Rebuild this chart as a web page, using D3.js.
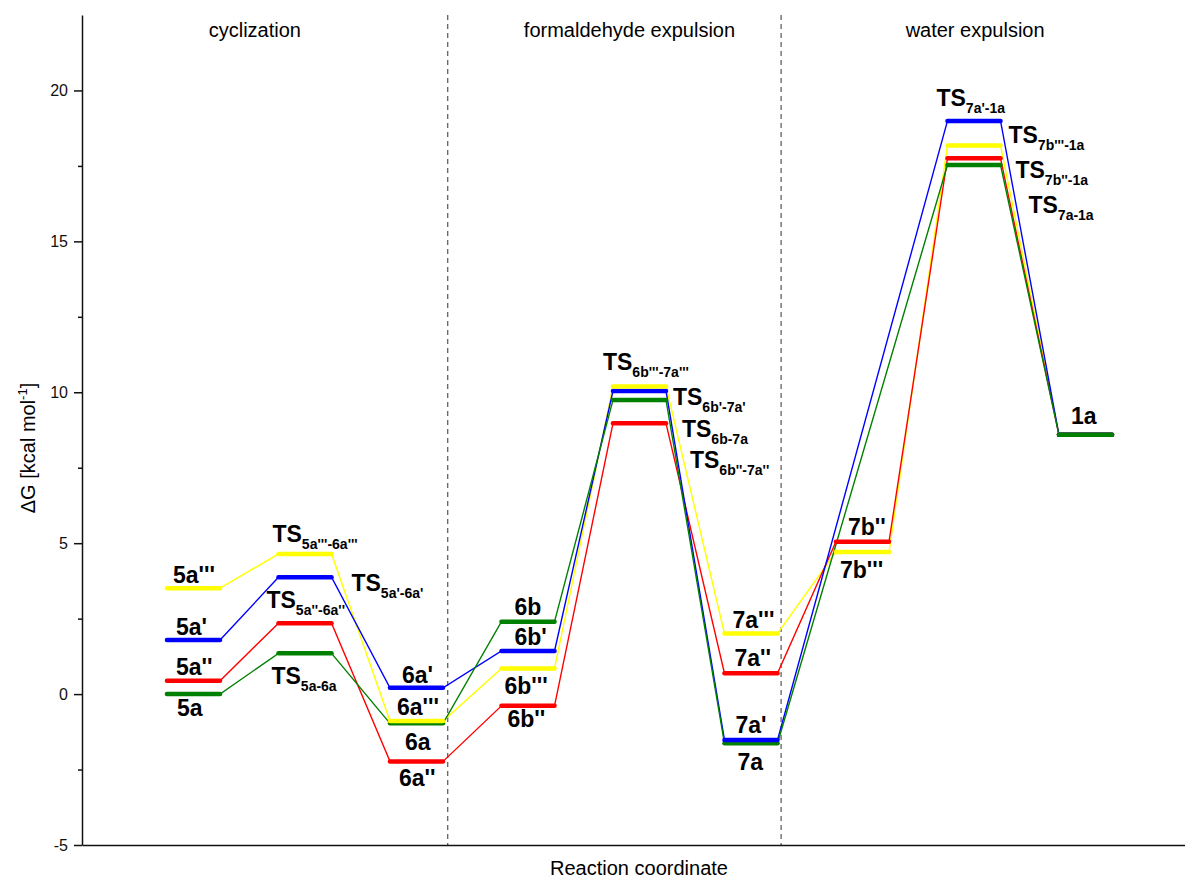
<!DOCTYPE html>
<html>
<head>
<meta charset="utf-8">
<script src="https://cdn.jsdelivr.net/npm/d3@7"></script>
<style>
  body { margin: 0; background: #fff; }
  svg { display: block; font-family: Arial, 'Liberation Sans', sans-serif; }
  .axis path, .axis line { stroke: #111; stroke-width: 1.5px; }
  .axis text { font-size: 16px; fill: #111; }
  .lbl { font-size: 23px; font-weight: bold; fill: #000; }
  .lbl .sub { font-size: 14px; }
</style>
</head>
<body>
<div id="chart"></div>
<script>
// reaction steps along the coordinate
const states = ['5a', 'TS 5a-6a', '6a', '6b', 'TS 6b-7a', '7a', '7b', 'TS 7-1a', '1a'];

// ΔG [kcal/mol] per pathway (null = state not visited)
const green  = [0.00, 1.35, -0.97, 2.40, 9.74, -1.63, null, 17.53, 8.59];
const blue   = [1.79, 3.87,  0.21, 1.43, 10.04, -1.52, null, 18.99, 8.59];
const red    = [0.44, 2.35, -2.23, -0.39, 8.97, 0.69, 5.05, 17.75, 8.59];
const yellow = [3.51, 4.64, -0.89, 0.85, 10.19, 2.01, 4.71, 18.18, 8.59];

// state names per pathway ("main|subscript")
const greenNames  = ['5a', 'TS|5a-6a', '6a', '6b', 'TS|6b-7a', '7a', null, 'TS|7a-1a', '1a'];
const blueNames   = ["5a'", "TS|5a'-6a'", "6a'", "6b'", "TS|6b'-7a'", "7a'", null, "TS|7a'-1a", null];
const redNames    = ["5a''", "TS|5a''-6a''", "6a''", "6b''", "TS|6b''-7a''", "7a''", "7b''", "TS|7b''-1a", null];
const yellowNames = ["5a'''", "TS|5a'''-6a'''", "6a'''", "6b'''", "TS|6b'''-7a'''", "7a'''", "7b'''", "TS|7b'''-1a", null];

const sections = ['cyclization', 'formaldehyde expulsion', 'water expulsion'];
const sectionBreaks = [3.28, 6.27];
const yTicks = [-5, 0, 5, 10, 15, 20];
const yMinor = [-2.5, 2.5, 7.5, 12.5, 17.5];

// label offsets (px) from the left end / level of each bar
const labelOffsets = {
  green:  [[10, 22], [-7, 31], [15, 27], [13, -7], [69, 37], [13, 27], null, [81, 48], [12, -11]],
  blue:   [[9, -5], [73, 14], [12, -5], [13, -6], [60, 14], [11, -7], null, [-11, -15], null],
  red:    [[9, -6], [-12, -15], [9, 25], [6, 21], [77, 45], [10, -7], [12, -7], [68, 20], null],
  yellow: [[6, -5], [-6, -12], [7, -6], [3, 26], [-10, -17], [8, -5], [4, 26], [61, -2], null]
};

const series = [
  { key: 'yellow', color: '#ffff00', values: yellow, names: yellowNames },
  { key: 'red', color: '#ff0000', values: red, names: redNames },
  { key: 'blue', color: '#0000ff', values: blue, names: blueNames },
  { key: 'green', color: '#008000', values: green, names: greenNames }
];

const width = 1185;
const height = 879;
const marginLeft = 82;
const plotTop = 15;
const plotBottom = 845;
const unit = 111.5;
const halfBar = 0.238;

const svg = d3.select('#chart')
  .append('svg')
  .attr('width', width)
  .attr('height', height);

const x = d3.scaleLinear()
  .domain([0, (width - marginLeft) / unit])
  .range([marginLeft, width]);
const y = d3.scaleLinear()
  .domain([-5, 22.5])
  .range([plotBottom, plotTop]);

// section separators
svg.append('g')
  .selectAll('line')
  .data(sectionBreaks)
  .enter()
  .append('line')
  .attr('x1', (d) => x(d))
  .attr('x2', (d) => x(d))
  .attr('y1', plotTop)
  .attr('y2', plotBottom)
  .attr('stroke', '#555')
  .attr('stroke-width', 1.2)
  .attr('stroke-dasharray', '5,4');

// section titles
const sectionCenters = [1.55, 4.91, 8.01];
svg.append('g')
  .selectAll('text')
  .data(sections)
  .enter()
  .append('text')
  .attr('x', (d, i) => x(sectionCenters[i]))
  .attr('y', 37)
  .attr('text-anchor', 'middle')
  .style('font-size', '20px')
  .text((d) => d);

// build points for a pathway: each state is a flat segment
function levelPoints(values) {
  const pts = [];
  values.forEach((v, i) => {
    if (v === null) { return; }
    pts.push([i + 1 - halfBar, v], [i + 1 + halfBar, v]);
  });
  return pts;
}

const line = d3.line()
  .x((d) => x(d[0]))
  .y((d) => y(d[1]));

const paths = svg.append('g');
series.forEach((s) => {
  paths.append('path')
    .attr('d', line(levelPoints(s.values)))
    .attr('fill', 'none')
    .attr('stroke', s.color)
    .attr('stroke-width', 1.4);
});

// level bars: within a state the higher level is drawn last
const levels = [];
series.forEach((s) => {
  s.values.forEach((v, i) => {
    if (v !== null) { levels.push({ v, i, color: s.color }); }
  });
});
levels.sort((a, b) => d3.ascending(a.v, b.v));

svg.append('g')
  .selectAll('line')
  .data(levels)
  .enter()
  .append('line')
  .attr('x1', (d) => x(d.i + 1 - halfBar))
  .attr('x2', (d) => x(d.i + 1 + halfBar))
  .attr('y1', (d) => y(d.v))
  .attr('y2', (d) => y(d.v))
  .attr('stroke', (d) => d.color)
  .attr('stroke-width', 4.5)
  .attr('stroke-linecap', 'round');

// state labels
const labels = svg.append('g');
series.forEach((s) => {
  s.names.forEach((name, i) => {
    if (!name) { return; }
    const off = labelOffsets[s.key][i];
    const parts = name.split('|');
    const t = labels.append('text')
      .attr('class', 'lbl')
      .attr('x', x(i + 1 - halfBar) + off[0])
      .attr('y', y(s.values[i]) + off[1]);
    t.append('tspan').text(parts[0]);
    if (parts[1]) {
      t.append('tspan')
        .attr('class', 'sub')
        .attr('dy', 7)
        .text(parts[1]);
    }
  });
});

// Y axis
const yAxis = d3.axisLeft(y)
  .tickValues(yTicks)
  .tickSize(8)
  .tickSizeOuter(0)
  .tickPadding(6)
  .tickFormat((d) => String(d));
svg.append('g')
  .attr('class', 'axis')
  .attr('transform', `translate(${marginLeft}, 0)`)
  .call(yAxis);
svg.append('g')
  .attr('class', 'axis')
  .attr('transform', `translate(${marginLeft}, 0)`)
  .call(d3.axisLeft(y).tickValues(yMinor).tickSize(4).tickSizeOuter(0).tickFormat(''))
  .select('.domain').remove();

// X axis (no ticks)
svg.append('g')
  .attr('class', 'axis')
  .attr('transform', `translate(0, ${plotBottom})`)
  .call(d3.axisBottom(x).tickValues([]).tickSizeOuter(0));

svg.append('text')
  .attr('x', 639)
  .attr('y', 875)
  .attr('text-anchor', 'middle')
  .style('font-size', '20px')
  .text('Reaction coordinate');

const yTitle = svg.append('text')
  .attr('transform', 'translate(35, 448) rotate(-90)')
  .attr('text-anchor', 'middle')
  .style('font-size', '20px');
yTitle.append('tspan').text('\u0394G [kcal mol');
yTitle.append('tspan').attr('dy', -8).style('font-size', '13px').text('-1');
yTitle.append('tspan').attr('dy', 8).text(']');
</script>
</body>
</html>
